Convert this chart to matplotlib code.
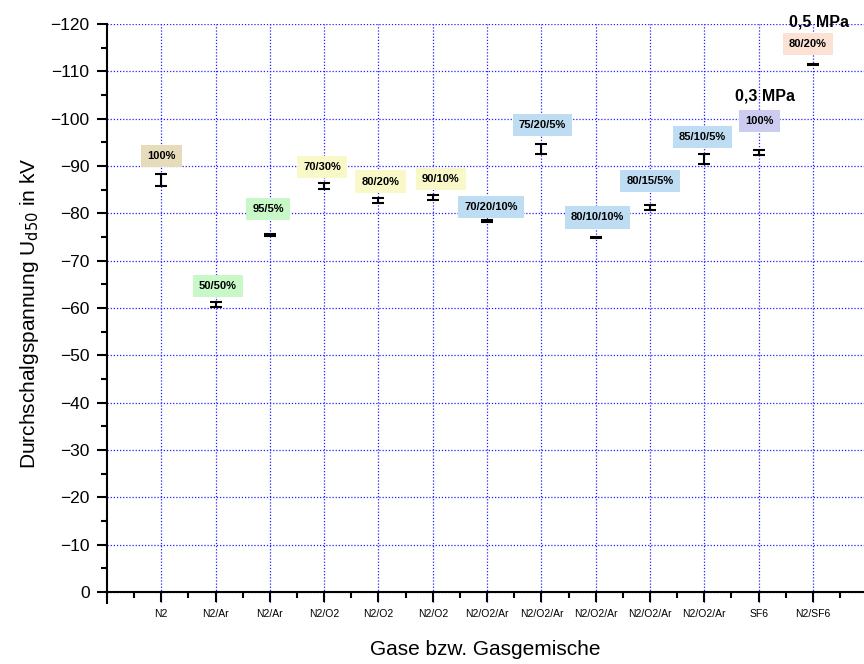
import matplotlib
matplotlib.use('Agg')

import numpy as np
import matplotlib.pyplot as plt
from matplotlib.ticker import MultipleLocator

plt.rcParams['font.family'] = ['Liberation Sans', 'DejaVu Sans']

# Daten
gase = ['N2', 'N2/Ar', 'N2/Ar', 'N2/O2', 'N2/O2', 'N2/O2', 'N2/O2/Ar', 'N2/O2/Ar',
        'N2/O2/Ar', 'N2/O2/Ar', 'N2/O2/Ar', 'SF6', 'N2/SF6']
mischung = ['100%', '50/50%', '95/5%', '70/30%', '80/20%', '90/10%', '70/20/10%',
            '75/20/5%', '80/10/10%', '80/15/5%', '85/10/5%', '100%', '80/20%']
ud50 = [87.0, 60.7, 75.4, 85.8, 82.7, 83.4, 78.4, 93.6, 74.9, 81.2, 91.4, 92.9, 111.4]
fehler = [1.3, 0.5, 0.15, 0.6, 0.5, 0.55, 0.25, 1.1, 0.15, 0.5, 1.05, 0.5, 0.1]
y_ticks = [0, 10, 20, 30, 40, 50, 60, 70, 80, 90, 100, 110, 120]
y_ticklabels = ['0'] + ['\u2212%d' % v for v in y_ticks[1:]]
druck = {11: '0,3 MPa', 12: '0,5 MPa'}

# Farben und Verschiebung der Beschriftungen (Pixel)
farben = ['#e6dcbc', '#c8f8c8', '#c8f8c8', '#f8f8c8', '#f8f8c8', '#f8f8c8', '#bedcf2',
          '#bedcf2', '#bedcf2', '#bedcf2', '#bedcf2', '#ccccf0', '#fbe2d4']
dx = [0, 2, -2, -2, 2, 8, 4, 1, 2, 0, -2, 1, -5]
dy = [24, 19, 26, 19, 19, 18, 14, 24, 20, 27, 22, 31, 21]
druck_dx = {11: 6, 12: 6}
druck_dy = {11: 56, 12: 43}

x = np.arange(1, len(gase) + 1)

fig = plt.figure(figsize=(8.64, 6.64), dpi=100)
ax = fig.add_axes([0.1238, 0.0919, 0.8762, 0.872])

ax.errorbar(x, ud50, yerr=fehler, fmt='none', ecolor='black', elinewidth=1.5,
            capsize=4.5, capthick=1.5, zorder=3)

for i in range(len(x)):
    ax.annotate(mischung[i], (x[i], ud50[i]), xytext=(dx[i] * 0.72, dy[i] * 0.72),
                textcoords='offset points', ha='center', va='center',
                fontsize=8, fontweight='bold',
                bbox=dict(boxstyle='square,pad=0.55', fc=farben[i], ec='none'))
    if i in druck:
        ax.annotate(druck[i], (x[i], ud50[i]),
                    xytext=(druck_dx[i] * 0.72, druck_dy[i] * 0.72),
                    textcoords='offset points', ha='center', va='center',
                    fontsize=11.5, fontweight='bold')

ax.set_xlim(0, 13.94)
ax.set_ylim(-2.3, 120)
ax.set_xticks(x)
ax.set_xticklabels(gase)
ax.xaxis.set_minor_locator(MultipleLocator(0.5))
ax.set_yticks(y_ticks)
ax.set_yticklabels(y_ticklabels)
ax.yaxis.set_minor_locator(MultipleLocator(5))

ax.spines['top'].set_visible(False)
ax.spines['right'].set_visible(False)
ax.spines['bottom'].set_position(('data', 0))
ax.spines['left'].set_linewidth(1.5)
ax.spines['bottom'].set_linewidth(1.5)
ax.tick_params(which='major', length=7.5, width=1.5)
ax.tick_params(which='minor', length=4.5, width=1.5)
ax.tick_params(axis='x', which='major', labelsize=7.5, pad=5)
ax.tick_params(axis='y', which='major', labelsize=12.5, pad=5)

ax.grid(True, which='major', color='#2020ff', linestyle=(0, (1, 1.5)), linewidth=0.9)
ax.set_axisbelow(True)

ax.set_ylabel('Durchschalgspannung U$_{\\mathrm{d50}}$ in kV', fontsize=15, labelpad=7)
ax.set_xlabel('Gase bzw. Gasgemische', fontsize=15, labelpad=15)

plt.savefig('out.png', dpi=100)
